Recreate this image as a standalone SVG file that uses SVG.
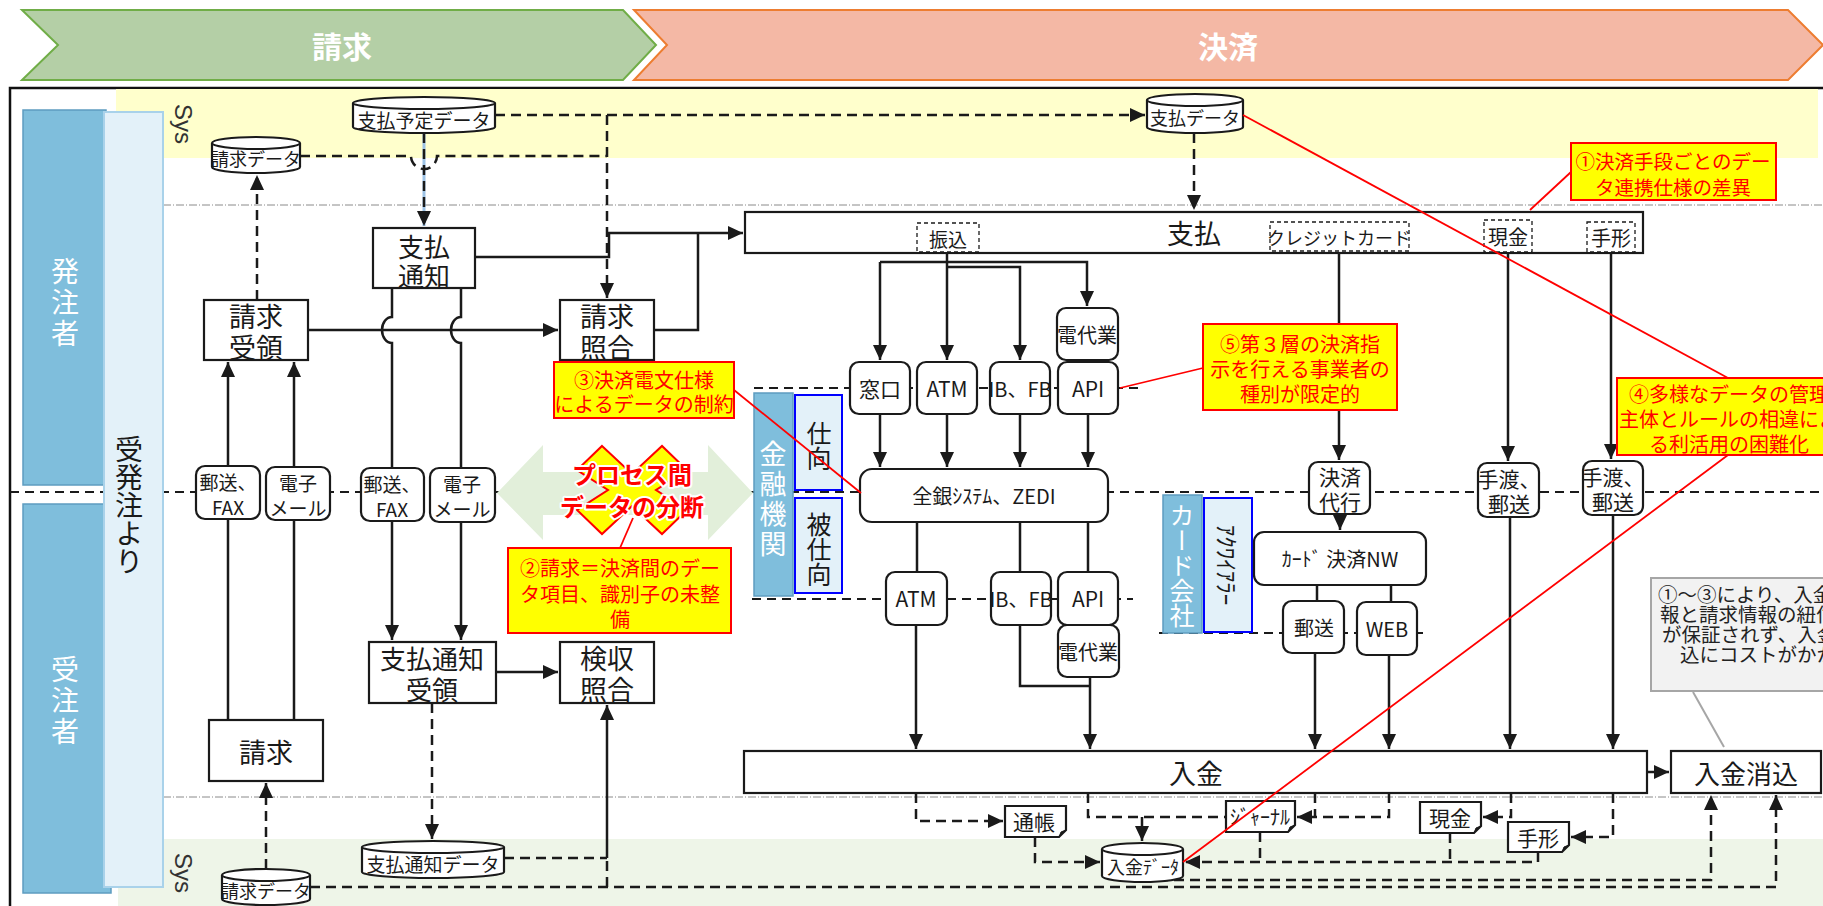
<svg xmlns="http://www.w3.org/2000/svg" width="1823" height="906" viewBox="0 0 1823 906">
<defs>
<marker id="ah" markerUnits="userSpaceOnUse" markerWidth="16" markerHeight="16" viewBox="0 0 16 16" refX="15" refY="8" orient="auto"><path d="M0,1 L15,8 L0,15 Z" fill="#1a1a1a"/></marker>
<style>
text{font-family:"Noto Sans CJK JP","Noto Sans",sans-serif;text-anchor:middle;dominant-baseline:central;fill:#1a1a1a}
.ht{font-size:30px;font-weight:bold;fill:#fff}
.box{fill:#fff;stroke:#1a1a1a;stroke-width:2.2}
.ib{fill:#fff;stroke:#1a1a1a;stroke-width:1.3;stroke-dasharray:4 3}
.ln{fill:none;stroke:#1a1a1a;stroke-width:2.5}
.dl{fill:none;stroke:#1a1a1a;stroke-width:2.5;stroke-dasharray:10 6}
.sep{fill:none;stroke:#1a1a1a;stroke-width:2;stroke-dasharray:9 6}
.dd{fill:none;stroke:#8a8a8a;stroke-width:1;stroke-dasharray:8 2 1 2}
.red{fill:none;stroke:#ff0000;stroke-width:1.8}
.note{fill:#ffff00;stroke:#ff0000;stroke-width:2}
.nt{fill:#ff0000;font-size:20px}
.blue{fill:#7FBEDC;stroke:#5E9CC0;stroke-width:1.5}
.lb{fill:#E3F1F9;stroke:#0000ff;stroke-width:2}
.wt{fill:#fff}
.s27{font-size:27px}.s26{font-size:26px}.s21{font-size:21px}.s20{font-size:20px}.s19{font-size:19px}.s18{font-size:18px}
.v{writing-mode:vertical-rl}
</style>
</defs>

<g id="header">
<g id="hdr-seikyu"><path d="M22,10 H623 L656,45 L623,80 H22 L58,45 Z" fill="#B4CFA6" stroke="#70AD47" stroke-width="2"/><text x="342" y="45" class="ht">請求</text></g>
<g id="hdr-kessai"><path d="M634,10 H1788 L1823,45 L1788,80 H634 L667,45 Z" fill="#F4B8A5" stroke="#ED7D31" stroke-width="2"/><text x="1228" y="45" class="ht">決済</text></g>
</g>

<g id="background">
<rect x="10" y="88" width="1830" height="840" fill="none" stroke="#111" stroke-width="2.5"/>
<rect x="116" y="89" width="1702" height="69" fill="#FFFFCC"/>
<rect x="118" y="839" width="1705" height="67" fill="#EEF5E8"/>
<line x1="163" y1="205" x2="1823" y2="205" class="dd"/>
<line x1="163" y1="797" x2="1823" y2="797" class="dd"/>
<line x1="10" y1="492" x2="1823" y2="492" class="sep"/>
<line x1="754" y1="388" x2="1140" y2="388" class="sep"/>
<line x1="752" y1="599" x2="1133" y2="599" class="sep"/>
<line x1="1159" y1="633" x2="1428" y2="633" class="sep"/>
<text transform="translate(183,124) rotate(90)" style="font-family:'Liberation Sans',sans-serif;font-size:24px;fill:#333">Sys</text>
<text transform="translate(183,873) rotate(90)" style="font-family:'Liberation Sans',sans-serif;font-size:24px;fill:#333">Sys</text>
</g>

<g id="lane-hacchu"><rect x="23" y="110" width="83" height="375" class="blue"/><text x="65" y="304" class="v wt" style="font-size:28px;letter-spacing:3px">発注者</text></g>
<g id="lane-juchu"><rect x="23" y="504" width="88" height="389" class="blue"/><text x="65" y="702" class="v wt" style="font-size:28px;letter-spacing:3px">受注者</text></g>
<g id="lane-juhacchu"><rect x="104" y="112" width="59" height="775" fill="#E3F1F9" stroke="#A9D2EA" stroke-width="2"/><text x="129" y="505" class="v" style="font-size:28px">受発注より</text></g>

<g id="process-gap">
<polygon points="497,493 543,445 543,472 708,472 708,445 753,493 708,540 708,515 543,515 543,540" fill="#E2EFDA"/>
<polygon points="602,446 632,474 662,446 687,470 656,490 687,510 662,534 632,506 602,534 577,510 608,490 577,470" fill="#ffff00" stroke="#ff0000" stroke-width="2"/>
<text x="632" y="473" style="font-size:24px;font-weight:bold;fill:#ff0000;stroke:#fff;stroke-width:4px;paint-order:stroke;stroke-linejoin:round">プロセス間</text>
<text x="632" y="505" style="font-size:24px;font-weight:bold;fill:#ff0000;stroke:#fff;stroke-width:4px;paint-order:stroke;stroke-linejoin:round">データの分断</text>
</g>

<g id="connectors">
<path d="M424,133 V226" stroke="#9DC3E6" stroke-width="3" fill="none"/>
<path d="M424,133 V226" class="dl" marker-end="url(#ah)"/>
<path d="M495,115 H1145" class="dl" marker-end="url(#ah)"/>
<path d="M607,115 V298" class="dl" marker-end="url(#ah)"/>
<path d="M300,156 H411 A13,13 0 0 0 437,156 H607" class="dl"/>
<path d="M257,300 V175" class="dl" marker-end="url(#ah)"/>
<path d="M475,257 H609 V233 H743" class="ln" marker-end="url(#ah)"/>
<path d="M654,330 H698 V233" class="ln"/>
<path d="M1194,133 V210" class="dl" marker-end="url(#ah)"/>
<path d="M308,330 H558" class="ln" marker-end="url(#ah)"/>
<path d="M392,288 V317 A10,13 0 0 0 392,343 V640" class="ln" marker-end="url(#ah)"/>
<path d="M461,288 V317 A10,13 0 0 0 461,343 V640" class="ln" marker-end="url(#ah)"/>
<path d="M228,720 V362" class="ln" marker-end="url(#ah)"/>
<path d="M294,720 V362" class="ln" marker-end="url(#ah)"/>
<path d="M496,672 H558" class="ln" marker-end="url(#ah)"/>
<path d="M432,703 V839" class="dl" marker-end="url(#ah)"/>
<path d="M504,858 H607" class="dl"/>
<path d="M607,858 V705" class="ln" marker-end="url(#ah)"/>
<path d="M266,869 V783" class="dl" marker-end="url(#ah)"/>
<path d="M310,887 H1776 V795" class="dl" marker-end="url(#ah)"/>
<path d="M607,887 V858" class="dl"/>
<path d="M947,252 V360" class="ln" marker-end="url(#ah)"/>
<path d="M880,262 H1087 V306" class="ln" marker-end="url(#ah)"/>
<path d="M880,262 V360" class="ln" marker-end="url(#ah)"/>
<path d="M947,267 H1020 V360" class="ln" marker-end="url(#ah)"/>
<path d="M880,414 V467" class="ln" marker-end="url(#ah)"/>
<path d="M947,414 V467" class="ln" marker-end="url(#ah)"/>
<path d="M1020,414 V467" class="ln" marker-end="url(#ah)"/>
<path d="M1088,414 V467" class="ln" marker-end="url(#ah)"/>
<path d="M917,522 V572 M1020,522 V572 M1088,522 V572" class="ln"/>
<path d="M916,625 V749" class="ln" marker-end="url(#ah)"/>
<path d="M1020,625 V686 H1090" class="ln"/>
<path d="M1090,677 V749" class="ln" marker-end="url(#ah)"/>
<path d="M1339,251 V460" class="ln" marker-end="url(#ah)"/>
<path d="M1340,514 V530" class="ln" marker-end="url(#ah)"/>
<path d="M1317,585 V601 M1391,585 V602" class="ln"/>
<path d="M1315,653 V749" class="ln" marker-end="url(#ah)"/>
<path d="M1389,655 V749" class="ln" marker-end="url(#ah)"/>
<path d="M1508,252 V461" class="ln" marker-end="url(#ah)"/>
<path d="M1510,517 V749" class="ln" marker-end="url(#ah)"/>
<path d="M1611,252 V459" class="ln" marker-end="url(#ah)"/>
<path d="M1613,515 V749" class="ln" marker-end="url(#ah)"/>
<path d="M1647,772 H1669" class="ln" marker-end="url(#ah)"/>
<path d="M916,793 V821 H1003" class="dl" marker-end="url(#ah)"/>
<path d="M1035,837 V862 H1100" class="dl" marker-end="url(#ah)"/>
<path d="M1088,793 V817 H1226" class="dl"/>
<path d="M1142,817 V841" class="dl" marker-end="url(#ah)"/>
<path d="M1389,793 V817 H1297" class="dl" marker-end="url(#ah)"/>
<path d="M1315,793 V817" class="dl"/>
<path d="M1511,793 V817 H1483" class="dl" marker-end="url(#ah)"/>
<path d="M1613,793 V837 H1571" class="dl" marker-end="url(#ah)"/>
<path d="M1538,852 V862 H1185" class="dl" marker-end="url(#ah)"/>
<path d="M1450,833 V862 M1260,832 V862" class="dl"/>
<path d="M1142,880 H1711 V795" class="dl" marker-end="url(#ah)"/>
<path d="M1693,692 L1724,747" fill="none" stroke="#A6A6A6" stroke-width="2"/>
</g>

<g id="n-shiharai-yotei"><path d="M353,103 A71,6 0 0 1 495,103 V127 A71,6 0 0 1 353,127 Z" class="box"/><path d="M353,103 A71,6 0 0 0 495,103" class="box"/><text x="424" y="119" class="s19">支払予定データ</text></g>
<g id="n-seikyu-data-top"><path d="M212,143 A44,6 0 0 1 300,143 V167 A44,6 0 0 1 212,167 Z" class="box"/><path d="M212,143 A44,6 0 0 0 300,143" class="box"/><text x="256" y="158" class="s18">請求データ</text></g>
<g id="n-shiharai-data"><path d="M1147,100 A48,6 0 0 1 1243,100 V127 A48,6 0 0 1 1147,127 Z" class="box"/><path d="M1147,100 A48,6 0 0 0 1243,100" class="box"/><text x="1195" y="117" class="s18">支払データ</text></g>
<g id="n-shiharai-tsuchi-data"><path d="M362,847 A71,6 0 0 1 504,847 V872 A71,6 0 0 1 362,872 Z" class="box"/><path d="M362,847 A71,6 0 0 0 504,847" class="box"/><text x="433" y="863" class="s19">支払通知データ</text></g>
<g id="n-seikyu-data-bottom"><path d="M222,875 A44,6 0 0 1 310,875 V899 A44,6 0 0 1 222,899 Z" class="box"/><path d="M222,875 A44,6 0 0 0 310,875" class="box"/><text x="266" y="890" class="s18">請求データ</text></g>
<g id="n-nyukin-data"><path d="M1102,849 A40.5,6 0 0 1 1183,849 V876 A40.5,6 0 0 1 1102,876 Z" class="box"/><path d="M1102,849 A40.5,6 0 0 0 1183,849" class="box"/><text x="1143" y="866" class="s18">入金ﾃﾞｰﾀ</text></g>

<g id="n-shiharai-tsuchi"><rect x="373" y="228" width="102" height="60" class="box"/><text class="s26"><tspan x="424" y="245">支払</tspan><tspan x="424" y="274">通知</tspan></text></g>
<g id="n-seikyu-juryo"><rect x="204" y="300" width="104" height="60" class="box"/><text class="s27"><tspan x="256" y="315">請求</tspan><tspan x="256" y="346">受領</tspan></text></g>
<g id="n-seikyu-shogo"><rect x="560" y="300" width="94" height="60" class="box"/><text class="s27"><tspan x="607" y="315">請求</tspan><tspan x="607" y="346">照合</tspan></text></g>
<g id="n-tsuchi-juryo"><rect x="369" y="642" width="127" height="61" class="box"/><text class="s26"><tspan x="432" y="657">支払通知</tspan><tspan x="432" y="688">受領</tspan></text></g>
<g id="n-kenshu-shogo"><rect x="560" y="642" width="94" height="61" class="box"/><text class="s27"><tspan x="607" y="657">検収</tspan><tspan x="607" y="688">照合</tspan></text></g>
<g id="n-seikyu"><rect x="209" y="720" width="114" height="61" class="box"/><text x="266" y="751" class="s27">請求</text></g>

<g id="n-shiharai"><rect x="745" y="212" width="898" height="41" class="box"/><text x="1194" y="232" class="s27">支払</text>
<rect x="917" y="223" width="62" height="29" class="ib"/><text x="948" y="238" class="s19">振込</text>
<rect x="1270" y="222" width="139" height="29" class="ib"/><text x="1339" y="237" class="s18">クレジットカード</text>
<rect x="1484" y="220" width="48" height="32" class="ib"/><text x="1508" y="236" class="s20">現金</text>
<rect x="1587" y="222" width="48" height="30" class="ib"/><text x="1611" y="237" class="s20">手形</text></g>
<g id="n-nyukin"><rect x="744" y="751" width="903" height="42" class="box"/><text x="1196" y="772" class="s27">入金</text></g>
<g id="n-nyukin-keshikomi"><rect x="1671" y="751" width="150" height="42" class="box"/><text x="1746" y="772" class="s26">入金消込</text></g>

<g id="n-yuso-fax-1"><rect x="196" y="466" width="64" height="53" rx="9" class="box"/><text class="s19"><tspan x="228" y="481">郵送、</tspan><tspan x="228" y="506">FAX</tspan></text></g>
<g id="n-email-1"><rect x="266" y="467" width="64" height="53" rx="9" class="box"/><text class="s19"><tspan x="298" y="482">電子</tspan><tspan x="298" y="507">メール</tspan></text></g>
<g id="n-yuso-fax-2"><rect x="361" y="468" width="63" height="53" rx="9" class="box"/><text class="s19"><tspan x="392" y="483">郵送、</tspan><tspan x="392" y="508">FAX</tspan></text></g>
<g id="n-email-2"><rect x="430" y="468" width="65" height="54" rx="9" class="box"/><text class="s19"><tspan x="462" y="483">電子</tspan><tspan x="462" y="508">メール</tspan></text></g>

<g id="n-madoguchi"><rect x="850" y="362" width="60" height="52" rx="9" class="box"/><text x="880" y="388" class="s21">窓口</text></g>
<g id="n-atm-1"><rect x="917" y="362" width="60" height="52" rx="9" class="box"/><text x="947" y="388" class="s21">ATM</text></g>
<g id="n-ibfb-1"><rect x="990" y="362" width="60" height="52" rx="9" class="box"/><text x="1020" y="388" class="s20">IB、FB</text></g>
<g id="n-api-1"><rect x="1058" y="362" width="60" height="52" rx="9" class="box"/><text x="1088" y="388" class="s21">API</text></g>
<g id="n-dendaigyo-1"><rect x="1057" y="308" width="61" height="52" rx="9" class="box"/><text x="1087" y="334" class="s20">電代業</text></g>
<g id="n-zengin"><rect x="860" y="469" width="248" height="53" rx="12" class="box"/><text x="984" y="495" class="s20">全銀ｼｽﾃﾑ、ZEDI</text></g>
<g id="n-atm-2"><rect x="886" y="572" width="61" height="53" rx="9" class="box"/><text x="916" y="598" class="s21">ATM</text></g>
<g id="n-ibfb-2"><rect x="991" y="572" width="60" height="53" rx="9" class="box"/><text x="1021" y="598" class="s20">IB、FB</text></g>
<g id="n-api-2"><rect x="1058" y="572" width="60" height="53" rx="9" class="box"/><text x="1088" y="598" class="s21">API</text></g>
<g id="n-dendaigyo-2"><rect x="1058" y="625" width="61" height="52" rx="9" class="box"/><text x="1088" y="651" class="s20">電代業</text></g>

<g id="n-kinyu-kikan"><rect x="754" y="393" width="39" height="203" class="blue"/><text x="773" y="500" class="v wt" style="font-size:27px;letter-spacing:3px">金融機関</text></g>
<g id="n-shimuke"><rect x="795" y="395" width="47" height="95" class="lb"/><text x="819" y="446" class="v" style="font-size:25px">仕向</text></g>
<g id="n-hishimuke"><rect x="795" y="498" width="47" height="95" class="lb"/><text x="819" y="549" class="v" style="font-size:25px">被仕向</text></g>
<g id="n-card-kaisha"><rect x="1163" y="495" width="39" height="138" class="blue"/><text x="1182" y="565" class="v wt" style="font-size:25px">カード会社</text></g>
<g id="n-acquirer"><rect x="1204" y="498" width="48" height="134" class="lb"/><text transform="translate(1228,565) rotate(90)" style="font-size:23px">ｱｸﾜｲｱﾗｰ</text></g>

<g id="n-kessai-daiko"><rect x="1309" y="462" width="61" height="52" rx="9" class="box"/><text class="s21"><tspan x="1340" y="476">決済</tspan><tspan x="1340" y="501">代行</tspan></text></g>
<g id="n-card-nw"><rect x="1254" y="532" width="172" height="53" rx="10" class="box"/><text x="1340" y="558" class="s20">ｶｰﾄﾞ 決済NW</text></g>
<g id="n-yuso"><rect x="1283" y="601" width="61" height="52" rx="9" class="box"/><text x="1314" y="627" class="s20">郵送</text></g>
<g id="n-web"><rect x="1357" y="602" width="60" height="53" rx="9" class="box"/><text x="1387" y="628" class="s20">WEB</text></g>
<g id="n-tewatashi-1"><rect x="1478" y="463" width="61" height="54" rx="9" class="box"/><text class="s21"><tspan x="1509" y="478">手渡、</tspan><tspan x="1509" y="503">郵送</tspan></text></g>
<g id="n-tewatashi-2"><rect x="1583" y="461" width="60" height="54" rx="9" class="box"/><text class="s21"><tspan x="1613" y="476">手渡、</tspan><tspan x="1613" y="501">郵送</tspan></text></g>

<g id="n-tsucho"><path d="M1005,806 H1066 V830 L1059,837 H1005 Z" class="box"/><path d="M1059,837 L1061,832 L1066,830" fill="#1a1a1a" stroke="#1a1a1a" stroke-width="1"/><text x="1034" y="821" class="s21">通帳</text></g>
<g id="n-journal"><path d="M1226,801 H1295 V825 L1288,832 H1226 Z" class="box"/><path d="M1288,832 L1290,827 L1295,825" fill="#1a1a1a" stroke="#1a1a1a" stroke-width="1"/><text x="1260" y="816" class="s20">ｼﾞｬｰﾅﾙ</text></g>
<g id="n-genkin-doc"><path d="M1420,802 H1481 V826 L1474,833 H1420 Z" class="box"/><path d="M1474,833 L1476,828 L1481,826" fill="#1a1a1a" stroke="#1a1a1a" stroke-width="1"/><text x="1450" y="817" class="s21">現金</text></g>
<g id="n-tegata-doc"><path d="M1508,822 H1569 V845 L1562,852 H1508 Z" class="box"/><path d="M1562,852 L1564,847 L1569,845" fill="#1a1a1a" stroke="#1a1a1a" stroke-width="1"/><text x="1538" y="837" class="s21">手形</text></g>

<g id="callout-summary"><rect x="1651" y="578" width="200" height="113" fill="#F2F2F2" stroke="#A6A6A6" stroke-width="2"/>
<text style="font-size:19.5px;text-anchor:start;fill:#222"><tspan x="1658" y="593">①～③により、入金情</tspan><tspan x="1660" y="613">報と請求情報の紐付け</tspan><tspan x="1662" y="633">が保証されず、入金消</tspan><tspan x="1680" y="653">込にコストがかかる</tspan></text></g>

<g id="note-1"><rect x="1571" y="143" width="205" height="57" class="note"/><text class="nt" style="font-size:19.5px"><tspan x="1673" y="160">①決済手段ごとのデー</tspan><tspan x="1673" y="186">タ連携仕様の差異</tspan></text></g>
<g id="note-2"><rect x="508" y="548" width="223" height="85" class="note"/><text class="nt"><tspan x="620" y="567">②請求＝決済間のデー</tspan><tspan x="620" y="593">タ項目、識別子の未整</tspan><tspan x="620" y="618">備</tspan></text></g>
<g id="note-3"><rect x="554" y="362" width="180" height="56" class="note"/><text class="nt"><tspan x="644" y="379">③決済電文仕様</tspan><tspan x="644" y="403">によるデータの制約</tspan></text></g>
<g id="note-4"><rect x="1617" y="378" width="230" height="77" class="note"/><text class="nt"><tspan x="1729" y="393">④多様なデータの管理</tspan><tspan x="1729" y="418">主体とルールの相違によ</tspan><tspan x="1729" y="443">る利活用の困難化</tspan></text></g>
<g id="note-5"><rect x="1203" y="324" width="194" height="86" class="note"/><text class="nt"><tspan x="1300" y="343">⑤第３層の決済指</tspan><tspan x="1300" y="368">示を行える事業者の</tspan><tspan x="1300" y="393">種別が限定的</tspan></text></g>

<g id="note-links">
<path d="M1571,172 L1530,210" class="red"/>
<path d="M734,390 L861,493" class="red"/>
<path d="M620,548 L633,518" class="red"/>
<path d="M1203,368 L1120,388" class="red"/>
<path d="M1243,115 L1728,378" class="red"/>
<path d="M1728,455 L1183,862" class="red"/>
</g>
</svg>
